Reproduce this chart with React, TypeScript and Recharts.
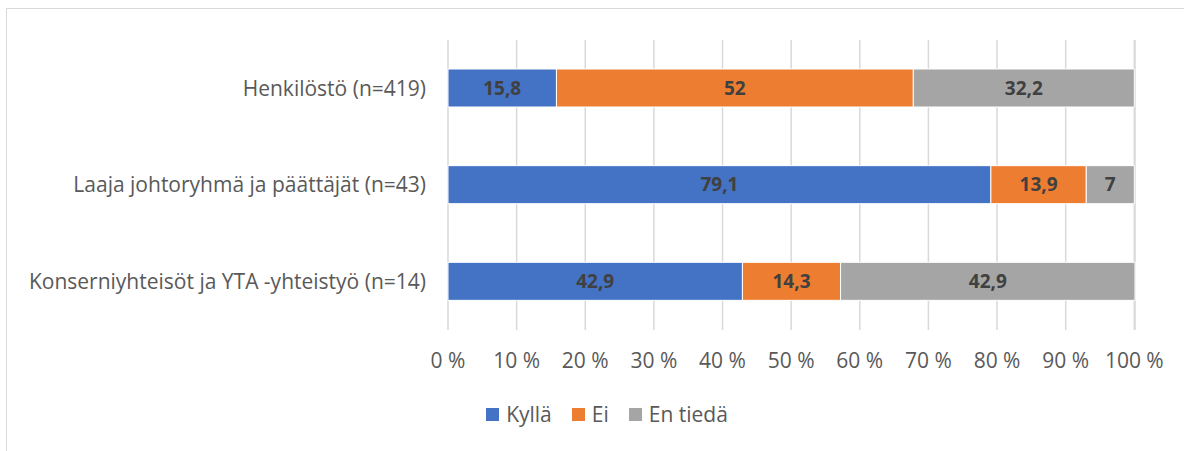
import { BarChart, Bar, XAxis, YAxis, CartesianGrid, Legend, LabelList } from 'recharts';

const categories = [
  'Henkilöstö (n=419)',
  'Laaja johtoryhmä ja päättäjät (n=43)',
  'Konserniyhteisöt ja YTA -yhteistyö (n=14)',
];
const kylla = [15.8, 79.1, 42.9];
const ei = [52, 13.9, 14.3];
const enTieda = [32.2, 7, 42.9];
const xTicks = [0, 10, 20, 30, 40, 50, 60, 70, 80, 90, 100];

const data = categories.map((name, i) => ({
  name,
  Kyllä: kylla[i],
  Ei: ei[i],
  'En tiedä': enTieda[i],
}));

const font = '"Open Sans", sans-serif';
const fmt = (v: number) => String(v).replace('.', ',');

const series = [
  { key: 'Kyllä', color: '#4472C4' },
  { key: 'Ei', color: '#ED7D31' },
  { key: 'En tiedä', color: '#A5A5A5' },
];

// legend in the order of the series, Excel-like spacing
function renderLegend(props: any) {
  const items = props.payload || [];
  const byName = new Map(items.map((p: any) => [p.value, p]));
  return (
    <div style={{ display: 'flex', justifyContent: 'center', alignItems: 'center', fontFamily: font, fontSize: 21, color: '#595959' }}>
      {series.map((s) => {
        const p: any = byName.get(s.key);
        return (
          <div key={s.key} style={{ display: 'flex', alignItems: 'center', marginRight: 20 }}>
            <span style={{ width: 13, height: 13, background: p ? p.color : s.color, marginRight: 7, display: 'inline-block' }} />
            <span>{s.key}</span>
          </div>
        );
      })}
    </div>
  );
}

export default function App() {
  return (
    <div style={{ position: 'absolute', left: 0, top: 0, width: 1184, height: 451, overflow: 'hidden', background: '#fff', fontFamily: font }}>
      <div style={{ position: 'absolute', left: 6, top: 8, width: 1200, height: 460, border: '1.5px solid #d9d9d9', boxSizing: 'border-box' }} />
      <div style={{ position: 'absolute', left: 0, top: 0 }}>
        <BarChart
          width={1184}
          height={451}
          data={data}
          layout="vertical"
          barSize={38}
          margin={{ top: 40, right: 49, left: 8, bottom: 66 }}
        >
          <CartesianGrid horizontal={false} stroke="#d9d9d9" strokeWidth={1.5} />
          <XAxis
            type="number"
            domain={[0, 100]}
            ticks={xTicks}
            tickFormatter={(v: number) => `${v} %`}
            axisLine={false}
            tickLine={false}
            tickSize={0}
            tickMargin={23}
            interval={0}
            height={30}
            tick={{ fontSize: 21, fill: '#595959', fontFamily: font }}
          />
          <YAxis
            type="category"
            dataKey="name"
            width={440}
            axisLine={false}
            tickLine={false}
            tickSize={0}
            tickMargin={22}
            tick={{ fontSize: 21, fill: '#595959', fontFamily: font }}
          />
          <Legend
            verticalAlign="bottom"
            align="center"
            height={25}
            content={renderLegend}
            wrapperStyle={{ top: 400, left: 25, width: 1184 }}
          />
          {series.map((s) => (
            <Bar key={s.key} dataKey={s.key} name={s.key} stackId="a" fill={s.color} stroke="#fff" strokeWidth={1} isAnimationActive={false}>
              <LabelList
                dataKey={s.key}
                position="center"
                formatter={(v: number) => fmt(v)}
                style={{ fontSize: 19, fontWeight: 700, fill: '#404040', fontFamily: font }}
              />
            </Bar>
          ))}
        </BarChart>
      </div>
    </div>
  );
}
